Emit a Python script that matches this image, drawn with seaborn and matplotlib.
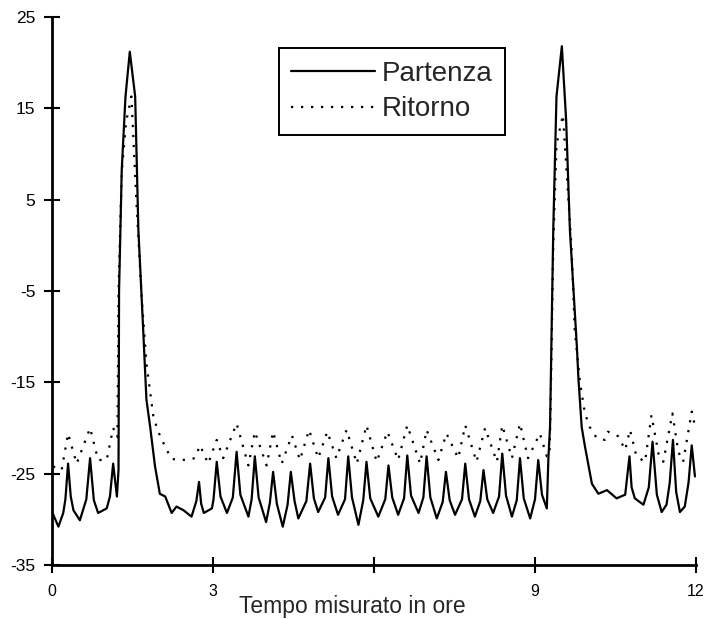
import numpy as np
import pandas as pd
import matplotlib
matplotlib.use("Agg")
import matplotlib.pyplot as plt
import seaborn as sns

# Partenza (solid line): time in hours, value
partenza_t = [0.01, 0.12, 0.21, 0.25, 0.30, 0.35, 0.40, 0.52, 0.64, 0.71, 0.78, 0.86,
              1.02, 1.08, 1.14, 1.21, 1.24,
              1.25, 1.30, 1.37, 1.45, 1.55, 1.61, 1.70, 1.76, 1.83, 1.92, 2.01, 2.11,
              2.23, 2.32, 2.45,
              2.60, 2.69, 2.74, 2.78, 2.83, 2.98, 3.01, 3.07, 3.14, 3.26, 3.37, 3.44,
              3.51, 3.66, 3.72, 3.78, 3.85, 3.99, 4.06, 4.12, 4.19, 4.30, 4.39, 4.45,
              4.52, 4.59, 4.74, 4.81, 4.88, 4.96, 5.09, 5.15, 5.22, 5.33, 5.46, 5.52,
              5.59, 5.71, 5.80, 5.86, 5.93, 6.08, 6.21, 6.27, 6.34, 6.45, 6.56, 6.62,
              6.69, 6.83, 6.92, 6.98, 7.05, 7.17, 7.28, 7.34, 7.41, 7.51, 7.64, 7.70,
              7.77, 7.88, 7.98, 8.04, 8.11, 8.22, 8.33, 8.39, 8.46, 8.57, 8.66, 8.72,
              8.79, 8.91, 9.00, 9.06, 9.13, 9.22,
              9.25, 9.28, 9.34, 9.40, 9.50, 9.58, 9.65, 9.78, 9.81, 9.87, 9.93, 10.06,
              10.18, 10.34, 10.52, 10.68, 10.76, 10.80, 10.86, 11.02, 11.12, 11.19,
              11.27, 11.36, 11.45, 11.51, 11.57, 11.63, 11.70, 11.79, 11.86, 11.92, 11.98]
partenza_v = [-29.3, -30.8, -29.3, -27.8, -23.9, -27.5, -29.0, -30.1, -27.8, -23.3, -27.9, -29.3,
              -28.8, -27.5, -23.9, -27.5, -24.6,
              -5.0, 8.3, 16.3, 21.2, 16.3, 1.7, -9.3, -16.9, -19.9, -24.2, -27.2, -27.5,
              -29.3, -28.6, -29.0,
              -29.7, -28.0, -25.9, -28.3, -29.3, -28.8, -27.8, -23.7, -27.5, -29.3, -27.6, -22.6,
              -27.3, -29.7, -27.8, -23.1, -27.6, -30.3, -28.2, -24.8, -28.3, -30.8, -28.4, -24.8,
              -28.0, -29.9, -28.0, -23.9, -27.7, -29.2, -27.6, -23.3, -27.5, -29.5, -27.8, -23.1,
              -27.6, -30.6, -27.9, -23.7, -27.7, -29.7, -27.8, -24.1, -27.6, -29.5, -27.7, -23.0,
              -27.4, -29.3, -27.6, -23.1, -27.6, -29.9, -28.1, -24.8, -27.9, -29.5, -27.8, -23.9,
              -27.8, -29.7, -28.0, -24.6, -27.8, -29.3, -27.5, -22.8, -27.4, -29.7, -27.9, -23.3,
              -27.7, -29.9, -27.8, -23.5, -27.3, -28.8,
              -23.2, -19.9, 1.7, 16.3, 21.8, 13.7, 1.7, -11.1, -14.7, -19.9, -22.0, -26.1,
              -27.2, -26.8, -27.7, -27.3, -23.1, -26.5, -27.7, -28.4, -26.5, -21.5,
              -27.3, -29.2, -28.4, -26.0, -21.3, -27.0, -29.2, -28.6, -26.0, -21.9, -25.3]

# Ritorno (dotted line)
ritorno_t = [0.02, 0.18, 0.30, 0.46, 0.71, 0.86, 1.02, 1.14, 1.22, 1.24, 1.30, 1.38,
             1.48, 1.58, 1.67, 1.76, 1.89, 1.98, 2.12, 2.23, 2.51, 2.66, 2.76, 2.91,
             3.07, 3.19, 3.44, 3.66, 3.78, 4.00, 4.12, 4.28, 4.47, 4.62, 4.79, 4.96,
             5.13, 5.30, 5.49, 5.68, 5.86, 6.05, 6.25, 6.45, 6.62, 6.86, 6.98, 7.20,
             7.35, 7.57, 7.70, 7.91, 8.07, 8.29, 8.39, 8.57, 8.72, 8.87, 9.09, 9.22,
             9.27, 9.29, 9.34, 9.40, 9.52, 9.68, 9.74, 9.84, 9.93, 10.02, 10.15, 10.30,
             10.36, 10.55, 10.68, 10.77, 10.89, 11.05, 11.17, 11.30, 11.39, 11.56, 11.67,
             11.76, 11.92, 11.97]
ritorno_v = [-24.2, -24.6, -20.6, -23.9, -20.0, -23.5, -23.5, -20.0, -21.0, -5.0, 8.0, 13.5,
             16.3, 4.0, -5.6, -12.9, -18.8, -20.4, -22.2, -23.4, -23.5, -23.3, -21.9, -23.9,
             -21.3, -23.3, -19.5, -24.1, -20.4, -24.1, -20.4, -23.9, -20.8, -23.5, -20.2, -23.3,
             -20.4, -23.3, -20.2, -23.9, -19.7, -23.7, -20.4, -23.5, -19.7, -23.9, -20.2, -23.5,
             -20.6, -23.3, -19.7, -23.7, -20.0, -23.7, -19.7, -23.3, -19.5, -23.3, -20.6, -23.1,
             -23.0, -18.0, 0.0, 11.0, 14.3, -0.2, -9.3, -15.1, -18.4, -19.9, -21.1, -21.3,
             -20.4, -20.9, -22.4, -20.2, -23.1, -23.7, -18.6, -22.8, -23.7, -18.4, -22.6,
             -23.7, -18.2, -19.5]

x_ticks = [0, 3, 6, 9, 12]
x_tick_labels = ["0", "3", "", "9", "12"]
y_ticks = [-35, -25, -15, -5, 5, 15, 25]
y_tick_labels = ["-35", "-25", "-15", "-5", "5", "15", "25"]

df_p = pd.DataFrame({"t": partenza_t, "v": partenza_v})
df_r = pd.DataFrame({"t": ritorno_t, "v": ritorno_v})

sns.set_style("ticks")
plt.rcParams["font.family"] = ["Liberation Sans", "DejaVu Sans"]

fig = plt.figure(figsize=(7.09, 6.19), dpi=100)
ax = fig.add_axes([0.0733, 0.0872, 0.9084, 0.8853])

sns.lineplot(data=df_p, x="t", y="v", sort=False, color="black", linewidth=1.6,
             label="Partenza", ax=ax)
sns.lineplot(data=df_r, x="t", y="v", sort=False, color="black", linewidth=1.6,
             linestyle=(0, (1, 3.5)), label="Ritorno", ax=ax)

ax.set_xlim(0, 12)
ax.set_ylim(-35, 25)
ax.set_xticks(x_ticks)
ax.set_xticklabels(x_tick_labels, fontsize=11.5)
ax.set_yticks(y_ticks)
ax.set_yticklabels(y_tick_labels, fontsize=12.5)
ax.tick_params(axis="both", direction="inout", length=12, width=1.5, colors="black")
ax.tick_params(axis="x", pad=8)
ax.tick_params(axis="y", pad=6)

for side in ["top", "right"]:
    ax.spines[side].set_visible(False)
for side in ["left", "bottom"]:
    ax.spines[side].set_linewidth(2)
    ax.spines[side].set_color("black")

ax.set_xlabel("Tempo misurato in ore", fontsize=16.5, labelpad=0)
ax.xaxis.set_label_coords(0.466, -0.055)
ax.set_ylabel("")

leg = ax.legend(loc="upper left", bbox_to_anchor=(0.352, 0.943), fontsize=20,
                frameon=True, fancybox=False, edgecolor="black", framealpha=1,
                handlelength=3.0, handletextpad=0.25, borderpad=0.45,
                labelspacing=0.35, borderaxespad=0)
leg.get_frame().set_linewidth(1.4)

fig.savefig("out.png", dpi=100)
